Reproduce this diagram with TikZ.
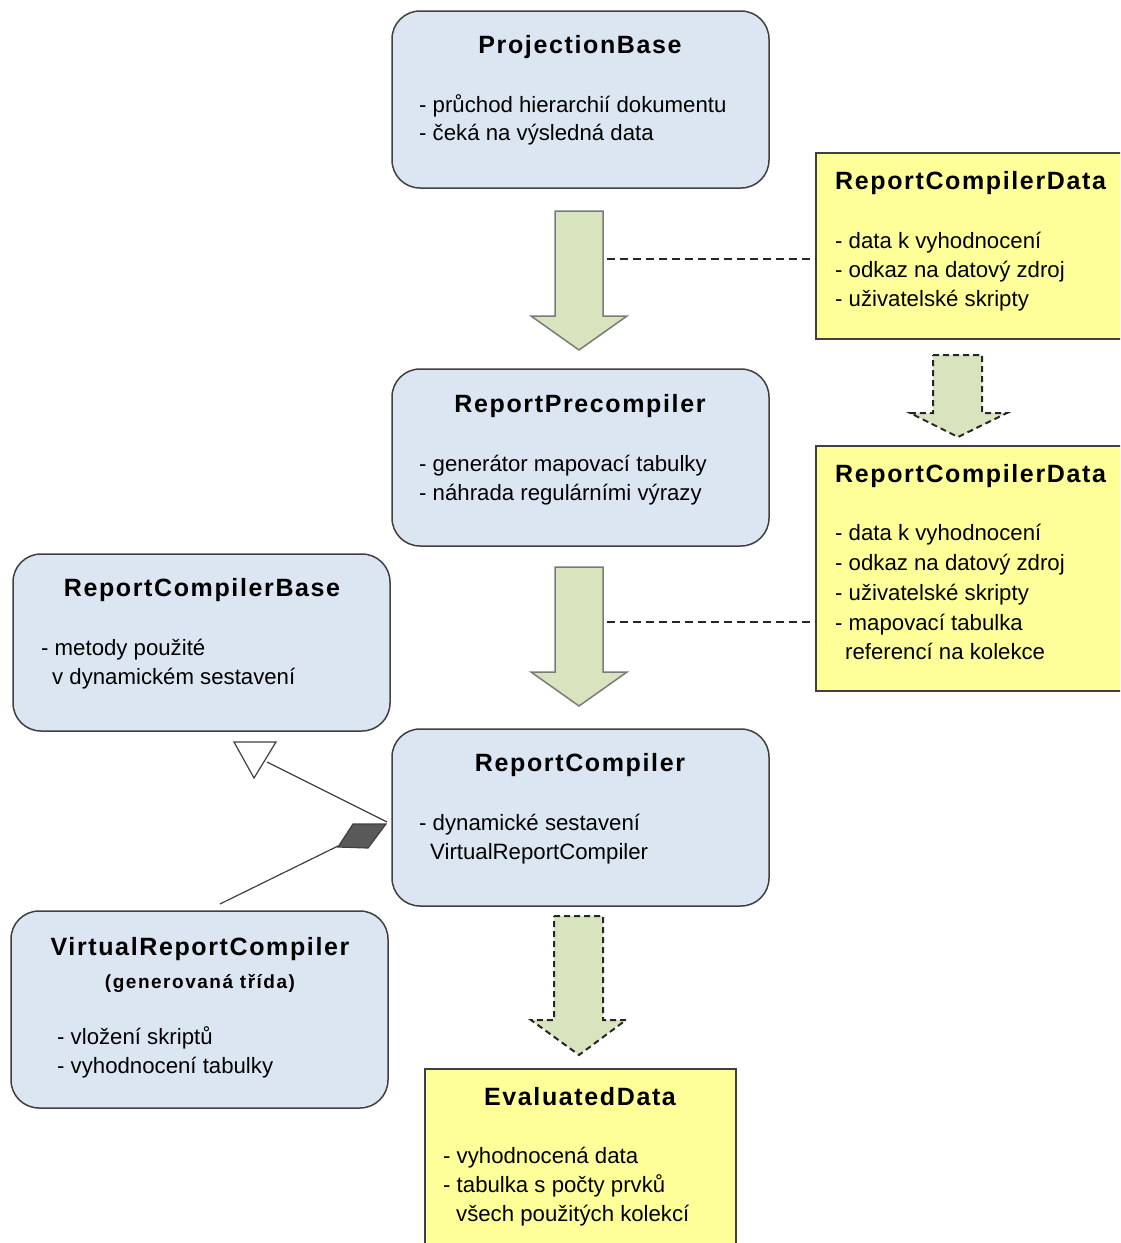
\documentclass[tikz,border=0pt]{standalone}
\usepackage{fontspec}
\setmainfont{Liberation Sans}
\newfontfamily\titlefont[LetterSpace=6.5]{Liberation Sans}
\newfontfamily\subtitlefont[LetterSpace=8]{Liberation Sans}
\definecolor{boxblue}{HTML}{DCE6F2}
\definecolor{boxline}{HTML}{404040}
\definecolor{noteyellow}{HTML}{FFFF99}
\definecolor{arrowgreen}{HTML}{D7E4BD}
\definecolor{arrowline}{HTML}{7A7A7A}
\begin{document}
\begin{tikzpicture}[x=1pt,y=-1pt,
  bluebox/.style={draw=boxline, line width=1.5pt, fill=boxblue, rounded corners=28pt, inner sep=0pt},
  yellowbox/.style={draw=boxline, line width=1.5pt, fill=noteyellow, inner sep=0pt},
  titletext/.style={font=\titlefont\bfseries\fontsize{25}{29}\selectfont, anchor=base, inner sep=0pt},
  subtitletext/.style={font=\subtitlefont\bfseries\fontsize{19}{23}\selectfont, anchor=base, inner sep=0pt},
  bodytext/.style={font=\fontsize{22.2}{29}\selectfont, anchor=base west, inner sep=0pt},
  blockarrow/.style={fill=arrowgreen, draw=arrowline, line width=1.5pt, line join=miter},
  dasharrow/.style={fill=arrowgreen, draw=black!85, line width=2pt, dash pattern=on 6pt off 4pt},
  dashline/.style={draw=black!85, line width=1.5pt, dash pattern=on 8pt off 5pt},
  assocline/.style={draw=boxline, line width=1.2pt}
]
\useasboundingbox (0,0) rectangle (1120,1243);
\clip (0,0) rectangle (1120,1243);

% ---------- boxes ----------
\node[bluebox, minimum width=377pt, minimum height=177pt] (pb) at (580.5,99.5) {};
\node[bluebox, minimum width=377pt, minimum height=177pt] (rp) at (580.5,457.5) {};
\node[bluebox, minimum width=377pt, minimum height=177pt] (rc) at (580.5,817.5) {};
\node[bluebox, minimum width=377pt, minimum height=177pt] (rcb) at (201.5,642.5) {};
\node[bluebox, minimum width=377pt, minimum height=197pt] (vrc) at (199.5,1009.5) {};
\node[yellowbox, minimum width=309pt, minimum height=186pt] (rcd1) at (970.5,246) {};
\node[yellowbox, minimum width=309pt, minimum height=245pt] (rcd2) at (970.5,568.5) {};
\node[yellowbox, minimum width=311pt, minimum height=181pt] (ed) at (580.5,1159.5) {};

% ---------- texts ----------
\node[titletext] (pbT) at (580,53) {ProjectionBase};
\node[bodytext] (pbL1) at (419,112) {- průchod hierarchií dokumentu};
\node[bodytext] (pbL2) at (419,140) {- čeká na výsledná data};

\node[titletext, anchor=base west] (rcd1T) at (835,189) {ReportCompilerData};
\node[bodytext] (rcd1L1) at (835,248) {- data k vyhodnocení};
\node[bodytext] (rcd1L2) at (835,277) {- odkaz na datový zdroj};
\node[bodytext] (rcd1L3) at (835,306) {- uživatelské skripty};

\node[titletext] (rpT) at (580,412) {ReportPrecompiler};
\node[bodytext] (rpL1) at (419,471) {- generátor mapovací tabulky};
\node[bodytext] (rpL2) at (419,500) {- náhrada regulárními výrazy};

\node[titletext, anchor=base west] (rcd2T) at (835,482) {ReportCompilerData};
\node[bodytext] (rcd2L1) at (835,540) {- data k vyhodnocení};
\node[bodytext] (rcd2L2) at (835,570) {- odkaz na datový zdroj};
\node[bodytext] (rcd2L3) at (835,600) {- uživatelské skripty};
\node[bodytext] (rcd2L4) at (835,630) {- mapovací tabulka};
\node[bodytext] (rcd2L5) at (845,659) {referencí na kolekce};

\node[titletext] (rcbT) at (202,596) {ReportCompilerBase};
\node[bodytext] (rcbL1) at (41,655) {- metody použité};
\node[bodytext] (rcbL2) at (52,684) {v dynamickém sestavení};

\node[titletext] (rcT) at (580,771) {ReportCompiler};
\node[bodytext] (rcL1) at (419,830) {- dynamické sestavení};
\node[bodytext] (rcL2) at (430,859) {VirtualReportCompiler};

\node[titletext] (vrcT) at (200,955) {VirtualReportCompiler};
\node[subtitletext] (vrcS) at (200,988) {(generovaná třída)};
\node[bodytext] (vrcL1) at (57,1044) {- vložení skriptů};
\node[bodytext] (vrcL2) at (57,1073) {- vyhodnocení tabulky};

\node[titletext] (edT) at (580,1105) {EvaluatedData};
\node[bodytext] (edL1) at (443,1163) {- vyhodnocená data};
\node[bodytext] (edL2) at (443,1192) {- tabulka s počty prvků};
\node[bodytext] (edL3) at (456,1221) {všech použitých kolekcí};

% ---------- block arrows ----------
\draw[blockarrow] (555,211) -- (603,211) -- (603,316) -- (627,316) -- (579,350) -- (531,316) -- (555,316) -- cycle;
\draw[blockarrow] (555,567) -- (603,567) -- (603,672) -- (627,672) -- (579,706) -- (531,672) -- (555,672) -- cycle;
\draw[dasharrow] (554,916) -- (603,916) -- (603,1020) -- (626,1020) -- (579,1055) -- (531,1020) -- (554,1020) -- cycle;
\draw[dasharrow] (933,355) -- (982,355) -- (982,413) -- (1007,413) -- (958,437) -- (910,413) -- (933,413) -- cycle;

\coordinate (a1side) at (607,259);
\coordinate (a2side) at (607,622);
\draw[dashline] (a1side) -- (rcd1.west |- a1side);
\draw[dashline] (a2side) -- (rcd2.west |- a2side);

% ---------- generalisation and composition ----------
\coordinate (gentip) at (267,762);
\coordinate (rcgen) at (387,822);
\draw[assocline] (rcgen) -- (gentip);
\draw[draw=boxline, line width=1.2pt, fill=white, line join=miter] (234,742) -- (276,742) -- (254,778) -- cycle;

\coordinate (compend) at (338,846);
\coordinate (vrcend) at (220,904);
\draw[assocline] (compend) -- (vrcend);
\draw[draw=boxline, line width=1.2pt, fill=black!65] (353,824) -- (386,824) -- (368,848) -- (338,847) -- cycle;
\end{tikzpicture}
\end{document}
